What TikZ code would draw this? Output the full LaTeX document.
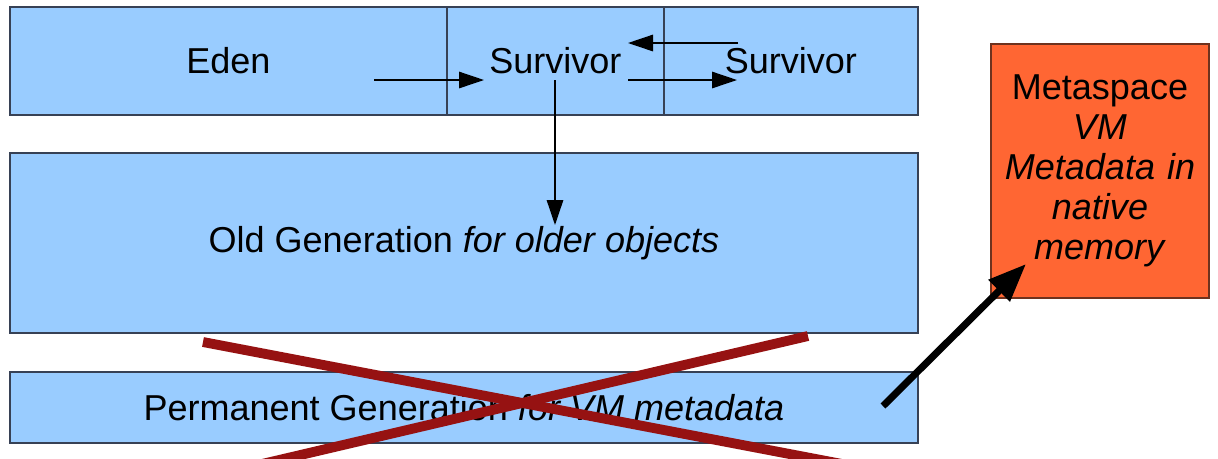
\documentclass[tikz,border=0pt]{standalone}
\usepackage{fontspec}
\setmainfont{Liberation Sans}
\usepackage{xcolor}
\usetikzlibrary{positioning, arrows.meta}

\definecolor{heapblue}{RGB}{153,204,255}
\definecolor{heapline}{RGB}{55,65,85}
\definecolor{metaorange}{RGB}{255,102,51}
\definecolor{metaline}{RGB}{110,50,30}
\definecolor{crossred}{RGB}{150,18,18}

\begin{document}
\begin{tikzpicture}[
    x=0.02cm, y=-0.02cm,
    gen/.style={draw=heapline, fill=heapblue, line width=0.8pt, outer sep=0pt, inner sep=0pt, text centered, font=\fontsize{20.5}{24}\selectfont},
    meta/.style={draw=metaline, fill=metaorange, line width=0.8pt, outer sep=0pt, text width=4.1cm, align=center, font=\fontsize{20.5}{22.7}\selectfont},
    arr/.style={-{Triangle[length=0.5cm, width=0.33cm]}, line width=0.8pt},
    bigarr/.style={-{Triangle[length=0.76cm, width=0.58cm]}, line width=4pt},
    cross/.style={crossred, line width=5.6pt}
]
\useasboundingbox (0,0) rectangle (1218,458);

% young generation
\node[gen, minimum width=8.74cm, minimum height=2.16cm, anchor=north west] (eden) at (10,7) {Eden};
\node[gen, minimum width=4.34cm, minimum height=2.16cm, right=0pt of eden] (surv1) {Survivor};
\node[gen, minimum width=5.08cm, minimum height=2.16cm, right=0pt of surv1] (surv2) {Survivor};

% old and permanent generation
\node[gen, minimum width=18.16cm, minimum height=3.6cm, below=0.76cm of eden.south west, anchor=north west] (old) {Old Generation \textit{for older objects}};
\node[gen, minimum width=18.16cm, minimum height=1.42cm, below=0.78cm of old.south west, anchor=north west] (perm) {Permanent Generation \textit{for VM metadata}};

\node[meta, minimum width=4.36cm, minimum height=5.08cm, anchor=north west] (metaspace) at (991,44) {Metaspace\\\textit{VM}\\\textit{Metadata in}\\\textit{native}\\\textit{memory}};

% arrow ends
\coordinate (edenout) at (374,80);
\coordinate (s1in) at (484,80);
\coordinate (s1out) at (628,80);
\coordinate (s2in) at (737,80);
\coordinate (s2out) at (738,43);
\coordinate (s1back) at (628,43);
\coordinate (s1down) at (555,80);
\coordinate (oldin) at (555,225);
\coordinate (permout) at (883,406);
\coordinate (metain) at (1026,264);

\draw[arr] (edenout) -- (s1in);
\draw[arr] (s1out) -- (s2in);
\draw[arr] (s2out) -- (s1back);
\draw[arr] (s1down) -- (oldin);
\draw[bigarr] (permout) -- (metain);

% crossed out
\coordinate (xa) at (203,342);
\coordinate (xb) at (842,464);
\coordinate (xc) at (808,336);
\coordinate (xd) at (262,464);
\draw[cross] (xa) -- (xb);
\draw[cross] (xc) -- (xd);

\end{tikzpicture}
\end{document}
